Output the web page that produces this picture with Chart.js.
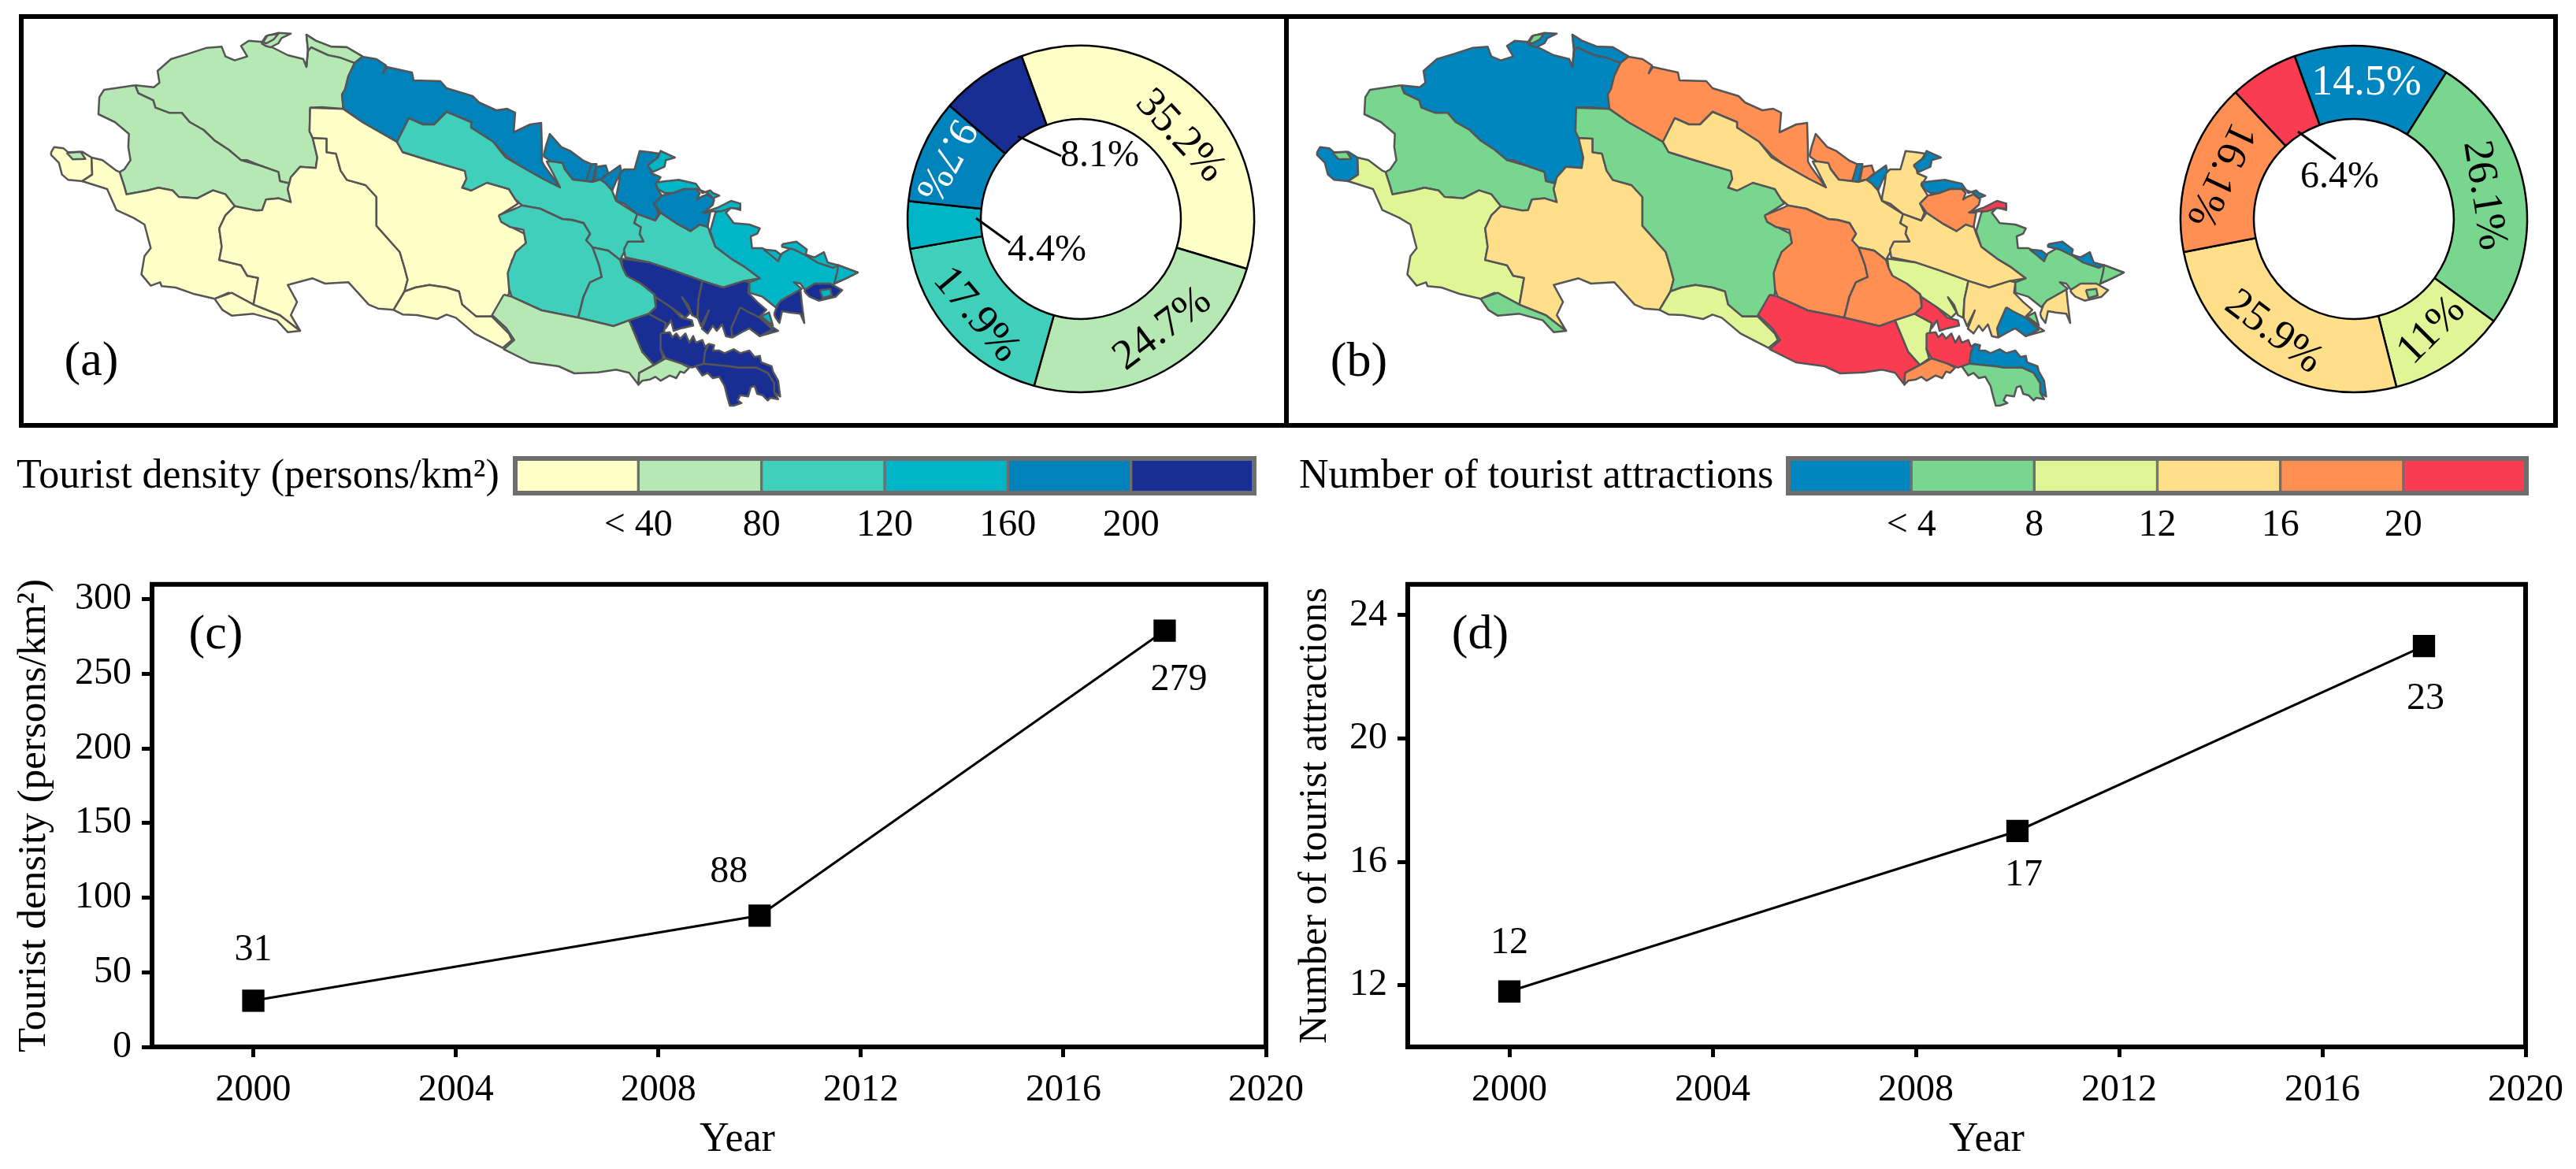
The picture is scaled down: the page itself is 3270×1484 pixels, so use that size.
<!DOCTYPE html>
<html>
<head>
<meta charset="utf-8">
<title>Tourist density and attractions</title>
<script src="https://cdn.jsdelivr.net/npm/chart.js@4"></script>
<style>
    html, body { margin: 0; padding: 0; background: #fff; }
    body { position: relative; width: 3270px; height: 1484px; overflow: hidden; }
    canvas { position: absolute; }
    .frame { position: absolute; box-sizing: border-box; border: 6px solid #000; }
</style>
</head>
<body>
<div class="frame" style="left:24px;top:18px;width:1612px;height:525px"></div>
<div class="frame" style="left:1630px;top:18px;width:1617px;height:525px"></div>
<canvas id="mapA" width="1130" height="530" style="left:20px;top:20px"></canvas>
<canvas id="mapB" width="1130" height="530" style="left:1627px;top:20px"></canvas>
<canvas id="donutA" width="460" height="460" style="left:1142px;top:48px"></canvas>
<canvas id="donutB" width="460" height="460" style="left:2758px;top:48px"></canvas>
<canvas id="barA" width="1620" height="130" style="left:0;top:570px"></canvas>
<canvas id="barB" width="1620" height="130" style="left:1640px;top:570px"></canvas>
<canvas id="lineC" width="1680" height="784" style="left:0;top:700px"></canvas>
<canvas id="lineD" width="1630" height="784" style="left:1640px;top:700px"></canvas>

<script>
// line charts
const years = [2000, 2010, 2018];
const touristDensity = [31, 88, 279];
const touristDensityLabels = ['31', '88', '279'];
const attractions = [11.8, 17, 23];
const attractionsLabels = ['12', '17', '23'];

// donuts
const densityShare = [35.2, 24.7, 17.9, 4.4, 9.7, 8.1];
const densityShareLabels = ['35.2%', '24.7%', '17.9%', '4.4%', '9.7%', '8.1%'];
const attractionShare = [14.5, 26.1, 11, 25.9, 16.1, 6.4];
const attractionShareLabels = ['14.5%', '26.1%', '11%', '25.9%', '16.1%', '6.4%'];

// colour classes
const densityTicks = ['< 40', '80', '120', '160', '200'];
const attractionTicks = ['< 4', '8', '12', '16', '20'];
const classBands = [1, 1, 1, 1, 1, 1];
const densityColors = ['#ffffc8', '#b5e8b2', '#40cfbb', '#00b6c6', '#0082ba', '#182e94'];
const attractionColors = ['#0086bf', '#78d68f', '#e0f595', '#ffdf8a', '#ff8f52', '#fa3c52'];

// map outlines were traced from two sheets, these bring them to one map grid
const west = pts => pts.map(p => [53 + p[0] / 2.53, 40 + p[1] / 3]);
const east = pts => pts.map(p => [613 + p[0] / 3.015, 190 + p[1] / 3]);

const northBasin = west([[300,205],[360,212],[378,195],[372,150],[415,105],[470,85],[530,62],[578,58],[590,95],[620,110],[660,95],[640,55],[665,35],[710,40],[720,55],[740,60],[790,90],[840,105],[850,135],[855,70],[850,12],[880,35],[930,58],[980,60],[1030,95],[1005,120],[985,170],[975,220],[965,240],[968,295],[900,288],[862,290],[860,380],[870,405],[885,480],[880,520],[830,515],[800,555],[795,578],[765,570],[760,535],[700,510],[660,490],[640,490],[600,450],[555,415],[520,375],[475,345],[450,310],[410,310],[365,290],[358,262],[310,235]]);
const northStrip = west([[850,135],[855,70],[850,12],[880,35],[930,58],[980,60],[1030,95],[1005,120],[960,100],[920,90],[865,60],[855,75]]);
const topIsland = west([[705,45],[720,18],[760,5],[800,8],[770,25],[760,45],[735,60],[720,55]]);
const topIslandCore = west([[710,42],[725,15],[760,8],[745,30],[722,45]]);
const westBasin = west([[300,205],[200,222],[185,250],[182,315],[235,345],[280,390],[278,440],[285,490],[265,525],[250,535],[265,590],[272,620],[340,605],[375,595],[420,605],[440,630],[500,635],[550,605],[590,620],[620,665],[650,675],[690,682],[708,680],[720,640],[760,635],[800,650],[790,600],[795,578],[765,570],[760,535],[700,510],[640,490],[600,450],[555,415],[520,375],[475,345],[450,310],[410,310],[365,290],[358,262],[310,235]]);
const westTip = west([[30,460],[40,440],[70,445],[85,460],[130,458],[160,480],[162,545],[130,570],[85,565],[65,545],[55,500],[30,470]]);
const westTipCore = west([[80,462],[125,458],[140,485],[100,487]]);
const southWest = west([[160,480],[195,490],[240,530],[250,535],[265,590],[272,620],[340,605],[375,595],[420,605],[440,630],[500,635],[550,605],[590,620],[620,665],[590,700],[570,750],[578,820],[570,870],[640,890],[660,930],[695,938],[680,1040],[615,1000],[600,995],[555,1018],[490,1000],[430,975],[385,970],[380,955],[350,968],[320,925],[330,855],[350,825],[330,735],[295,710],[240,680],[210,600],[130,570],[162,545]]);
const coastStrip = west([[555,1018],[610,995],[680,1040],[765,1080],[830,1140],[790,1145],[755,1100],[680,1075],[610,1082],[580,1060]]);
const centralWest = west([[620,665],[690,682],[708,680],[720,640],[760,635],[800,650],[790,600],[795,578],[800,555],[830,515],[880,520],[885,480],[870,405],[915,408],[915,460],[945,465],[960,530],[980,565],[1040,585],[1075,630],[1075,740],[1150,840],[1165,900],[1175,945],[1165,990],[1130,1060],[1080,1055],[1050,1040],[985,955],[910,960],[870,940],[790,965],[820,1030],[800,1080],[830,1140],[765,1080],[680,1040],[695,938],[660,930],[640,890],[570,870],[578,820],[570,750],[590,700]]);
const centralBasin = west([[862,290],[968,295],[1030,345],[1140,420],[1160,460],[1240,490],[1360,530],[1365,560],[1350,595],[1380,605],[1430,575],[1500,600],[1530,655],[1470,700],[1500,740],[1550,770],[1555,810],[1510,870],[1500,1000],[1445,1085],[1395,1085],[1350,1040],[1340,990],[1300,975],[1245,965],[1200,975],[1165,990],[1175,945],[1165,900],[1150,840],[1075,740],[1075,630],[1040,585],[980,565],[960,530],[945,465],[915,460],[915,408],[870,405],[860,380]]);
const southCentral = west([[1165,990],[1200,975],[1245,965],[1300,975],[1340,990],[1350,1040],[1395,1085],[1445,1085],[1500,1150],[1510,1175],[1480,1205],[1390,1150],[1330,1090],[1300,1078],[1270,1095],[1205,1080],[1160,1078],[1130,1060]]);

const northRidge = [[460,72],[478,75],[490,83],[486,93],[491,85],[523,92],[525,102],[559,103],[567,112],[600,122],[608,130],[630,140],[644,138],[654,143],[652,168],[673,158],[687,156],[688,190],[688,205],[692,212],[711,238],[689,227],[659,210],[643,198],[626,180],[598,162],[598,155],[567,142],[551,158],[537,158],[519,150],[504,180],[460,155],[436,138],[434,120],[438,113],[442,97],[450,80]];
const ridgeFinger = east([[232,25],[240,-10],[256,-60],[300,-10],[335,5],[385,42],[415,55],[400,120],[345,115],[315,75],[260,45]]);
const ridgeSliver = east([[415,55],[435,55],[430,75],[420,120],[395,122]]);
const ridgeNotch = east([[435,65],[470,60],[480,90],[450,115],[425,118]]);
const ridgeSpur = east([[450,115],[490,85],[525,60],[530,85],[510,120],[495,155],[470,130]]);
const middleBand = [[504,180],[519,150],[537,158],[551,158],[567,142],[598,155],[598,162],[626,180],[642,200],[659,210],[689,227],[711,238],[702,220],[694,205],[701,205],[714,207],[717,215],[727,228],[744,230],[752,231],[762,228],[769,233],[777,242],[782,255],[809,272],[805,283],[814,288],[812,297],[817,307],[797,307],[794,317],[787,330],[772,318],[752,314],[744,305],[749,297],[741,283],[726,279],[714,278],[686,265],[663,261],[654,253],[646,240],[618,232],[598,242],[587,238],[592,227],[590,217],[543,203],[511,193]];
const northBlock = east([[510,180],[520,130],[525,90],[540,75],[580,75],[590,40],[600,5],[640,10],[675,15],[660,40],[640,60],[645,90],[680,105],[660,135],[685,175],[655,205],[672,240],[660,270],[590,245],[540,205],[510,195]]);
const eastCentral = east([[555,350],[615,350],[600,320],[605,295],[580,280],[590,245],[660,270],[680,240],[740,280],[795,310],[830,285],[860,290],[870,320],[890,370],[950,415],[1000,445],[1060,490],[1000,500],[920,525],[840,500],[730,460],[640,430],[545,410],[540,380]]);
const innerBasin = east([[60,250],[130,222],[150,212],[220,225],[305,265],[340,268],[385,280],[410,320],[395,345],[420,372],[445,440],[455,485],[410,505],[385,560],[365,640],[225,612],[110,560],[100,530],[95,470],[105,440],[125,390],[165,355],[155,305],[105,295],[70,275]]);
const innerBasinEast = east([[420,372],[480,385],[525,420],[535,450],[550,480],[605,510],[655,550],[662,600],[635,625],[560,650],[500,672],[365,640],[385,560],[410,505],[455,485],[445,440]]);
const southBasin = east([[80,552],[110,560],[225,612],[365,640],[500,672],[560,650],[585,710],[610,770],[655,820],[598,850],[595,895],[560,850],[510,838],[440,848],[350,852],[290,825],[180,810],[80,760],[120,725],[90,680],[35,630]]);
const southWedge = east([[560,650],[635,625],[700,660],[680,760],[690,795],[655,820],[610,770],[585,710]]);
const inletNorth = east([[660,560],[720,600],[760,640],[800,650],[805,670],[760,680],[730,690],[720,650],[700,680],[700,660],[635,625],[662,600]]);
const inletBand = east([[530,415],[640,430],[730,460],[840,500],[825,570],[820,640],[800,630],[785,590],[762,562],[795,620],[775,640],[720,600],[660,560],[655,550],[605,510],[550,480],[535,450]]);
const fingerBlock = east([[840,500],[920,525],[1000,500],[1020,505],[1015,545],[1050,580],[1085,610],[1060,635],[1100,670],[1130,690],[1060,710],[1020,680],[1000,690],[950,715],[930,710],[915,665],[895,690],[880,670],[860,700],[838,682],[865,612],[835,672],[822,640],[825,570]]);
const fingerCore = east([[985,600],[1010,615],[1060,640],[1110,685],[1060,710],[1020,680],[1000,690],[955,715],[950,680]]);
const fingerPatch = east([[1065,635],[1095,620],[1110,670]]);
const fingerEast = east([[1115,625],[1135,570],[1190,535],[1215,530],[1220,580],[1230,660],[1215,625],[1175,620],[1145,615],[1135,660],[1120,640]]);
const eastBasin = east([[870,310],[890,240],[940,200],[985,215],[985,230],[950,220],[930,240],[960,280],[1020,285],[1060,300],[1050,320],[1025,330],[1030,375],[1070,375],[1100,390],[1130,420],[1145,395],[1180,375],[1240,400],[1280,420],[1320,435],[1360,440],[1435,468],[1390,490],[1345,510],[1340,520],[1280,550],[1230,530],[1215,510],[1190,505],[1220,530],[1140,575],[1120,600],[1070,560],[1020,545],[1020,505],[1060,490],[1000,445],[950,415],[890,370]]);
const coastNorth = east([[1145,360],[1200,350],[1240,380],[1235,400],[1270,410],[1305,390],[1320,430],[1360,440],[1340,450],[1280,430],[1240,405],[1190,380],[1145,370]]);
const coastInlet = east([[1075,380],[1120,385],[1140,400],[1130,425],[1100,400]]);
const eastTip = east([[1360,440],[1435,468],[1390,490],[1345,510],[1355,470]]);
const eastIsle = east([[1230,535],[1270,510],[1330,510],[1375,535],[1350,560],[1285,575],[1250,560],[1235,545]]);
const eastIsleCore = east([[1290,535],[1330,530],[1335,555],[1300,565]]);
const northIsle = east([[630,60],[670,30],[680,5],[735,30],[700,40],[695,65],[650,85]]);
const northArc = east([[660,125],[700,120],[750,115],[815,130],[840,165],[870,155],[880,165],[905,175],[880,185],[860,165],[820,150],[770,150],[730,165],[695,165],[670,150]]);
const northEastBlock = east([[655,205],[685,175],[730,165],[770,150],[815,150],[830,165],[820,190],[835,180],[860,170],[885,190],[880,210],[845,240],[870,240],[860,295],[830,285],[795,310],[740,280],[680,240]]);
const thinCoast = east([[840,240],[900,220],[950,195],[985,205],[985,225],[950,222],[910,235],[880,235]]);
const lowerRed = east([[680,700],[715,695],[725,715],[740,700],[755,720],[775,700],[790,735],[805,710],[815,735],[840,725],[850,750],[865,740],[850,770],[845,815],[800,830],[760,815],[700,795],[680,760]]);
const lowerBlue = east([[865,740],[885,745],[880,765],[905,765],[925,775],[960,760],[985,775],[1020,765],[1040,790],[1060,785],[1065,810],[1105,825],[1110,845],[1130,880],[1138,940],[1115,925],[1115,890],[1090,850],[1045,830],[975,830],[945,825],[880,822],[845,815],[850,770]]);
const lowerGreen = east([[815,825],[845,815],[945,825],[975,830],[1045,830],[1090,850],[1115,890],[1115,925],[1130,950],[1100,945],[1090,955],[1070,935],[1050,930],[1040,900],[1025,905],[1015,940],[985,935],[975,955],[990,965],[960,975],[945,975],[935,940],[925,900],[905,865],[880,870],[860,850],[840,860]]);
const lowerOrange = east([[655,820],[700,795],[760,815],[790,830],[770,850],[755,845],[740,870],[715,860],[680,880],[660,865],[640,875],[610,880],[595,895],[598,850]]);

const mapRegions = [northBasin, northStrip, topIsland, topIslandCore, westBasin, westTip, westTipCore, southWest, coastStrip, centralWest, centralBasin, southCentral, northRidge, ridgeFinger, ridgeSliver, ridgeNotch, ridgeSpur, middleBand, northBlock, eastCentral, innerBasin, innerBasinEast, southBasin, southWedge, inletNorth, inletBand, fingerBlock, fingerCore, fingerPatch, fingerEast, eastBasin, coastNorth, coastInlet, eastTip, eastIsle, eastIsleCore, northIsle, northArc, northEastBlock, thinCoast, lowerRed, lowerBlue, lowerGreen, lowerOrange];
const densityClass = [1, 1, 1, 1, 1, 0, 1, 0, 0, 0, 0, 0, 4, 4, 4, 4, 4, 2, 4, 2, 2, 2, 1, 5, 5, 5, 5, 5, 3, 5, 3, 3, 3, 3, 5, 3, 3, 3, 4, 3, 5, 5, 5, 1];
const attractionClass = [0, 0, 0, 1, 1, 0, 1, 2, 1, 3, 1, 2, 4, 4, 0, 4, 0, 3, 3, 3, 4, 4, 5, 2, 5, 2, 3, 0, 1, 3, 1, 0, 0, 1, 3, 1, 0, 0, 4, 5, 5, 0, 1, 4];

// placement of the donut texts, offset from the centre in px, rotation in degrees, font size
const densityLabelPlace = [[126, -105, 47, 54], [104, 140, -37, 54], [-133, 122, 50, 54], [-43, 40, 0, 48], [-172, -75, 118, 52], [24, -80, 0, 48]];
const densityLeaders = [[-80, -105, -25, -80], [-133, -1, -90, 30]];
const attractionLabelPlace = [[16, -172, 0, 54], [165, -30, 81, 54], [99, 142, -45, 54], [-102, 144, 37, 54], [-170, -56, 115, 54], [-18, -53, 0, 48]];
const attractionLeaders = [[-71, -111, -23, -76]];

// offsets of the value labels from their markers
const densityLabelOffset = [[0, -64], [-39, -55], [18, 63]];
const attractionLabelOffset = [[0, -61], [8, 56], [2, 67]];

const serif = '"Liberation Serif", "Times New Roman", serif';
const fontSize = 48;
const titleSize = 52;
Chart.defaults.font.family = serif;
Chart.defaults.font.size = fontSize;
Chart.defaults.color = '#000';
Chart.defaults.animation = false;
Chart.defaults.responsive = false;
Chart.defaults.plugins.legend.display = false;
Chart.defaults.plugins.tooltip.enabled = false;

function notesPlugin(notes) {
    return {
        id: 'notes',
        afterDraw(chart) {
            const ctx = chart.ctx;
            ctx.save();
            ctx.fillStyle = '#000';
            ctx.textBaseline = 'middle';
            notes.forEach(n => {
                ctx.font = (n.size || fontSize) + 'px ' + serif;
                ctx.textAlign = n.align || 'center';
                ctx.fillText(n.text, n.x, n.y);
            });
            ctx.restore();
        }
    };
}

function framePlugin(width, color) {
    return {
        id: 'frame',
        afterDraw(chart) {
            const a = chart.chartArea;
            const ctx = chart.ctx;
            ctx.save();
            ctx.lineWidth = width;
            ctx.strokeStyle = color;
            ctx.strokeRect(a.left, a.top, a.right - a.left, a.bottom - a.top);
            ctx.restore();
        }
    };
}

function modelMap(id, classes, colors, notes) {
    const n = mapRegions.length;
    new Chart(id, {
        type: 'scatter',
        data: {
            datasets: mapRegions.map((region, i) => ({
                data: region.concat([region[0]]).map(p => ({ x: p[0], y: p[1] })),
                showLine: true,
                fill: 'shape',
                tension: 0,
                pointRadius: 0,
                backgroundColor: colors[classes[i]],
                borderColor: '#555555',
                borderWidth: 2.5,
                borderJoinStyle: 'round',
                clip: false,
                order: n - i
            }))
        },
        options: {
            layout: { padding: 0 },
            scales: {
                x: { type: 'linear', display: false, min: 20, max: 1150 },
                y: { type: 'linear', display: false, min: 20, max: 550, reverse: true }
            }
        },
        plugins: [notesPlugin(notes)]
    });
}

function modelDonut(id, values, labels, colors, place, leaders, whiteIndex) {
    new Chart(id, {
        type: 'doughnut',
        data: {
            labels: labels,
            datasets: [{ data: values, backgroundColor: colors, borderColor: '#000', borderWidth: 2.5 }]
        },
        options: { rotation: -20, radius: 220, cutout: 132, layout: { padding: 0 } },
        plugins: [{
            id: 'sliceLabels',
            afterDraw(chart) {
                const ctx = chart.ctx;
                const arc = chart.getDatasetMeta(0).data[0];
                ctx.save();
                ctx.strokeStyle = '#000';
                ctx.lineWidth = 3;
                leaders.forEach(l => {
                    ctx.beginPath();
                    ctx.moveTo(arc.x + l[0], arc.y + l[1]);
                    ctx.lineTo(arc.x + l[2], arc.y + l[3]);
                    ctx.stroke();
                });
                ctx.textAlign = 'center';
                ctx.textBaseline = 'middle';
                labels.forEach((text, i) => {
                    ctx.save();
                    ctx.font = place[i][3] + 'px ' + serif;
                    ctx.translate(arc.x + place[i][0], arc.y + place[i][1]);
                    ctx.rotate(place[i][2] * Math.PI / 180);
                    ctx.fillStyle = i === whiteIndex ? '#fff' : '#000';
                    ctx.fillText(text, 0, 0);
                    ctx.restore();
                });
                ctx.restore();
            }
        }]
    });
}

function modelClassBar(id, colors, ticks, title, titleX, padLeft, padRight) {
    new Chart(id, {
        type: 'bar',
        data: {
            labels: [''],
            datasets: classBands.map((band, i) => ({
                data: [band],
                backgroundColor: colors[i],
                borderColor: '#6e6e6e',
                borderWidth: 2,
                borderSkipped: false,
                barPercentage: 1,
                categoryPercentage: 1
            }))
        },
        options: {
            indexAxis: 'y',
            layout: { padding: { left: padLeft, right: padRight, top: 12, bottom: 0 } },
            scales: {
                x: {
                    type: 'linear', stacked: true, min: 0, max: classBands.length,
                    grid: { display: false },
                    border: { display: false },
                    ticks: {
                        stepSize: 1, autoSkip: false, maxRotation: 0, padding: 5,
                        callback: v => ticks[v - 1] || ''
                    },
                    afterFit(scale) { scale.height = 74; }
                },
                y: { stacked: true, display: false }
            }
        },
        plugins: [framePlugin(6, '#6e6e6e'), notesPlugin([{ text: title, x: titleX, y: 35, align: 'left', size: titleSize }])]
    });
}

function modelLine(id, values, labels, offsets, opts) {
    new Chart(id, {
        type: 'scatter',
        data: {
            datasets: [{
                data: years.map((year, i) => ({ x: year, y: values[i] })),
                showLine: true,
                tension: 0,
                borderColor: '#000',
                borderWidth: 3,
                backgroundColor: '#000',
                pointStyle: 'rect',
                pointRadius: 20,
                pointBorderWidth: 0
            }]
        },
        options: {
            layout: { padding: { left: 0, right: opts.padRight, top: 40, bottom: 0 } },
            scales: {
                x: {
                    type: 'linear', min: 1998, max: 2020,
                    grid: { drawOnChartArea: false, tickLength: 13, tickWidth: 5, tickColor: '#000' },
                    border: { display: false },
                    ticks: { stepSize: 4, includeBounds: false, padding: 14, maxRotation: 0, autoSkip: false, callback: v => String(v) },
                    afterFit(scale) { scale.height = 155; }
                },
                y: {
                    type: 'linear', min: opts.min, max: opts.max,
                    grid: { drawOnChartArea: false, tickLength: 13, tickWidth: 5, tickColor: '#000' },
                    border: { display: false },
                    ticks: { stepSize: opts.step, includeBounds: false, padding: 13, autoSkip: false },
                    title: { display: true, text: opts.yTitle, font: { size: opts.yTitleSize }, padding: { top: opts.titlePad, bottom: 0 } },
                    afterFit(scale) { scale.width = opts.axisWidth; }
                }
            }
        },
        plugins: [framePlugin(6, '#000'), notesPlugin(opts.notes), {
            id: 'valueLabels',
            afterDraw(chart) {
                const ctx = chart.ctx;
                ctx.save();
                ctx.fillStyle = '#000';
                ctx.font = fontSize + 'px ' + serif;
                ctx.textAlign = 'center';
                ctx.textBaseline = 'middle';
                labels.forEach((text, i) => {
                    const x = chart.scales.x.getPixelForValue(years[i]);
                    const y = chart.scales.y.getPixelForValue(values[i]);
                    ctx.fillText(text, x + offsets[i][0], y + offsets[i][1]);
                });
                ctx.restore();
            }
        }]
    });
}

modelMap('mapA', densityClass, densityColors, [{ text: '(a)', x: 96, y: 440, size: 62 }]);
modelMap('mapB', attractionClass, attractionColors, [{ text: '(b)', x: 98, y: 441, size: 62 }]);
modelDonut('donutA', densityShare, densityShareLabels, densityColors, densityLabelPlace, densityLeaders, 4);
modelDonut('donutB', attractionShare, attractionShareLabels, attractionColors, attractionLabelPlace, attractionLeaders, 0);
modelClassBar('barA', densityColors, densityTicks, 'Tourist density (persons/km²)', 21, 654, 28);
modelClassBar('barB', attractionColors, attractionTicks, 'Number of tourist attractions', 9, 630, 53);
modelLine('lineC', touristDensity, touristDensityLabels, densityLabelOffset, {
    min: 0, max: 310, step: 50, axisWidth: 193, padRight: 73, titlePad: 13, yTitleSize: 51,
    yTitle: 'Tourist density (persons/km²)',
    notes: [{ text: '(c)', x: 274, y: 107, size: 62 }, { text: 'Year', x: 936, y: 747, size: titleSize }]
});
modelLine('lineD', attractions, attractionsLabels, attractionLabelOffset, {
    min: 10, max: 25, step: 4, axisWidth: 147, padRight: 64, titlePad: 0, yTitleSize: 50,
    yTitle: 'Number of tourist attractions',
    notes: [{ text: '(d)', x: 239, y: 107, size: 62 }, { text: 'Year', x: 882, y: 747, size: titleSize }]
});
</script>
</body>
</html>
